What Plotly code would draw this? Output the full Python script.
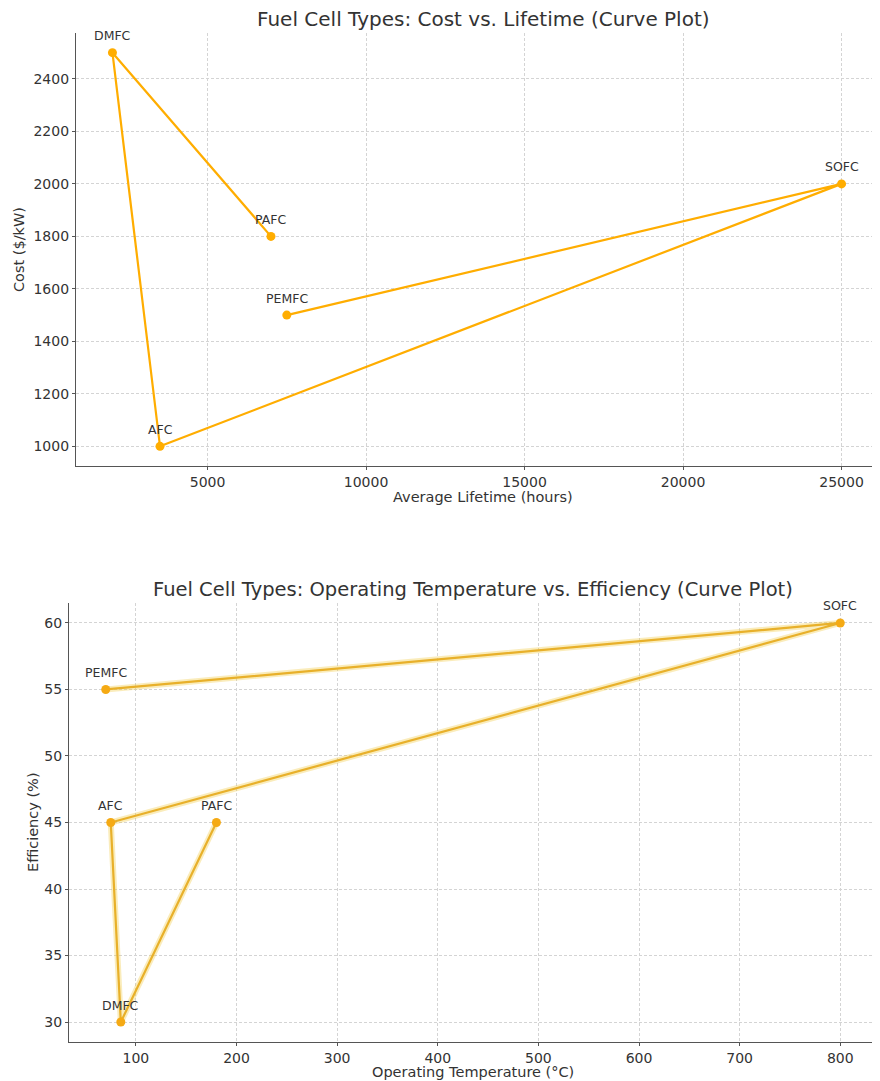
import plotly.graph_objects as go

types = ["PEMFC", "SOFC", "AFC", "DMFC", "PAFC"]
lifetime_hours = [7500, 25000, 3500, 2000, 7000]
cost_per_kw = [1500, 2000, 1000, 2500, 1800]
op_temp_c = [70, 800, 75, 85, 180]
efficiency_pct = [55, 60, 45, 30, 45]

# page has an 8px body margin; figure sized so it fills the 880x1081 window from there
OFF = 8
W, H = 880 - OFF, 1081 - OFF
FONT = "DejaVu Sans"
TXT = "#333333"
GRID = "#d4d4d4"
AX = "#555555"


def px(v):
    return min(1.0, max(0.0, (v - OFF) / W))


def py(v):
    return min(1.0, max(0.0, 1 - (v - OFF) / H))


fig = go.Figure()

fig.add_trace(go.Scatter(
    x=lifetime_hours, y=cost_per_kw, mode="lines+markers",
    line=dict(color="#FFAD00", width=2.2),
    marker=dict(color="#FFAD00", size=9),
    xaxis="x", yaxis="y", showlegend=False, hoverinfo="skip"))

# glow for bottom line
fig.add_trace(go.Scatter(
    x=op_temp_c, y=efficiency_pct, mode="lines",
    line=dict(color="rgba(240,200,60,0.35)", width=6),
    xaxis="x2", yaxis="y2", showlegend=False, hoverinfo="skip"))
fig.add_trace(go.Scatter(
    x=op_temp_c, y=efficiency_pct, mode="lines+markers",
    line=dict(color="#E8B02A", width=2.2),
    marker=dict(color="#F5AA14", size=9),
    xaxis="x2", yaxis="y2", showlegend=False, hoverinfo="skip"))

annotations = []
for t, xv, yv in zip(types, lifetime_hours, cost_per_kw):
    annotations.append(dict(x=xv, y=yv, xref="x", yref="y", text=t, showarrow=False,
                            yshift=17, font=dict(family=FONT, size=12.5, color=TXT)))
for t, xv, yv in zip(types, op_temp_c, efficiency_pct):
    annotations.append(dict(x=xv, y=yv, xref="x2", yref="y2", text=t, showarrow=False,
                            yshift=17, font=dict(family=FONT, size=12.5, color=TXT)))


def label(text, x, y, size, angle=0):
    return dict(x=px(x), y=py(y), xref="paper", yref="paper", text=text, showarrow=False,
                xanchor="center", yanchor="middle", textangle=angle,
                font=dict(family=FONT, size=size, color=TXT))


annotations += [
    label("Fuel Cell Types: Cost vs. Lifetime (Curve Plot)", 483, 19, 20),
    label("Fuel Cell Types: Operating Temperature vs. Efficiency (Curve Plot)", 473, 589, 19.5),
    label("Average Lifetime (hours)", 483, 497, 14.5),
    label("Cost ($/kW)", 19, 250, 14.5, -90),
    label("Operating Temperature (°C)", 473, 1072, 14.5),
    label("Efficiency (%)", 33, 822, 14.5, -90),
]


def axis_common():
    return dict(showgrid=True, gridcolor=GRID, griddash="3px,2px", gridwidth=0.8,
                showline=True, linecolor=AX, linewidth=1.3, mirror=False,
                ticks="outside", ticklen=3, tickcolor=AX, zeroline=False,
                tickformat="d",
                tickfont=dict(family=FONT, size=14, color=TXT))


fig.update_layout(
    width=W, height=H, margin=dict(l=0, r=0, t=0, b=0),
    paper_bgcolor="white", plot_bgcolor="white",
    annotations=annotations,
    xaxis=dict(**axis_common(), domain=[px(76), px(878)], anchor="y",
               range=[850, 26150], tickvals=[5000, 10000, 15000, 20000, 25000]),
    yaxis=dict(**axis_common(), domain=[py(466), py(33)], anchor="x",
               range=[925, 2575], tickvals=[1000, 1200, 1400, 1600, 1800, 2000, 2200, 2400]),
    xaxis2=dict(**axis_common(), domain=[px(69), px(877)], anchor="y2",
                range=[33.5, 836.5], tickvals=[100, 200, 300, 400, 500, 600, 700, 800]),
    yaxis2=dict(**axis_common(), domain=[py(1042), py(603)], anchor="x2",
                range=[28.5, 61.5], tickvals=[30, 35, 40, 45, 50, 55, 60]),
)

fig.write_html("out.html")
